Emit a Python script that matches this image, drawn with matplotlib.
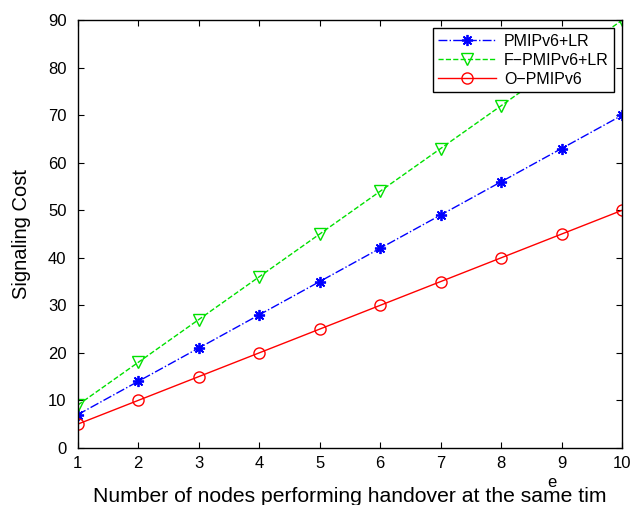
import matplotlib
matplotlib.use('Agg')
import matplotlib.pyplot as plt

plt.rcParams['font.family'] = ['Liberation Sans', 'DejaVu Sans']

nodes = [1, 2, 3, 4, 5, 6, 7, 8, 9, 10]
pmip_lr = [7, 14, 21, 28, 35, 42, 49, 56, 63, 70]
fpmip_lr = [9, 18, 27, 36, 45, 54, 63, 72, 81, 90]
opmip = [5, 10, 15, 20, 25, 30, 35, 40, 45, 50]

fig = plt.figure(figsize=(6.42, 5.05), dpi=100)
ax = fig.add_axes([0.121, 0.113, 0.848, 0.847])

ax.plot(nodes, pmip_lr, '-.', color='#0000ff', marker=(8, 2, 0), markersize=8,
        markeredgewidth=1.3, linewidth=1, label='PMIPv6+LR')
ax.plot(nodes, fpmip_lr, '--', color='#00e000', marker='v', markersize=9,
        markerfacecolor='none', linewidth=1, label='F\u2212PMIPv6+LR')
ax.plot(nodes, opmip, '-', color='#ff0000', marker='o', markersize=8,
        markerfacecolor='none', linewidth=1, label='O\u2212PMIPv6')

ax.set_xlim(1, 10)
ax.set_ylim(0, 90)
ax.set_xticks(nodes)
ax.set_yticks(range(0, 91, 10))
ax.tick_params(direction='in', labelsize=12, length=4, top=True, right=True)
ax.tick_params(axis='x', pad=6)
ax.tick_params(axis='y', pad=8)
for s in ax.spines.values():
    s.set_linewidth(1)

ax.set_ylabel('Signaling Cost', fontsize=14.5)
ax.yaxis.label.set_va('center')
ax.yaxis.set_label_coords(-0.104, 0.5)
ax.set_xlabel('Number of nodes performing handover at the same tim', fontsize=15.2)
ax.xaxis.label.set_va('baseline')
ax.xaxis.set_label_coords(0.5, -0.126)
fig.text(0.860, 0.044, 'e', fontsize=12, ha='center', va='center')

leg = ax.legend(loc='upper right', fontsize=11.5, fancybox=False, framealpha=1,
                edgecolor='black', borderaxespad=0.5, handlelength=3.6,
                labelspacing=0.25, borderpad=0.35, handletextpad=0.5)
leg.get_frame().set_linewidth(1)

fig.savefig('out.png', dpi=100)
